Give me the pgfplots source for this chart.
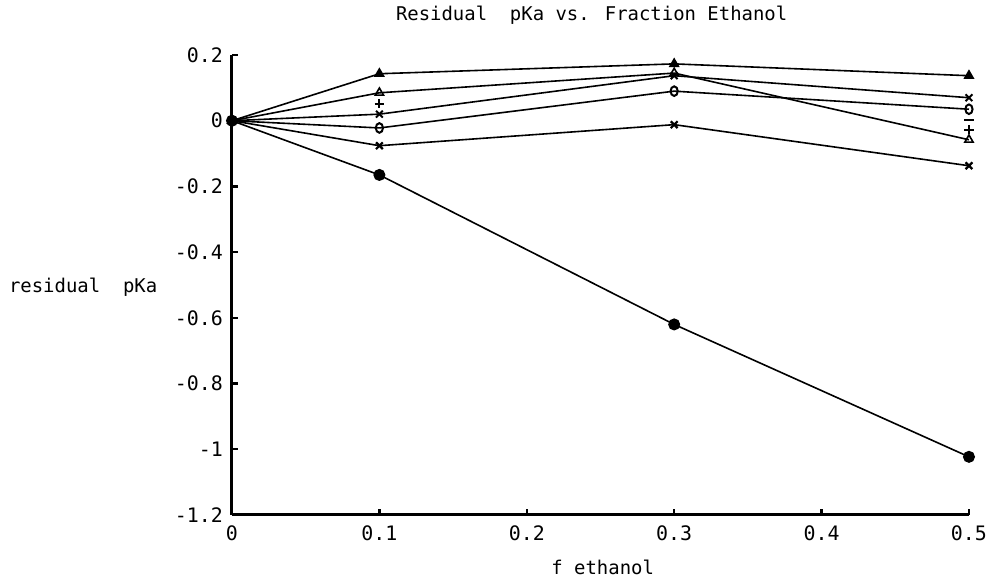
\documentclass[border=0pt]{standalone}
\usepackage{pgfplots}
\pgfplotsset{compat=1.18}
\usepackage{fontspec}
\setmainfont{DejaVu Sans Mono}

\begin{document}
\begin{tikzpicture}
\begin{axis}[
    scale only axis,
    width=368.5bp, height=230bp,
    xmin=0, xmax=0.5,
    ymin=-1.2, ymax=0.2,
    axis lines=left,
    x axis line style={line width=1.5bp, -},
    y axis line style={line width=1.5bp, -},
    xtick={0,0.1,0.2,0.3,0.4,0.5},
    ytick={-1.2,-1,-0.8,-0.6,-0.4,-0.2,0,0.2},
    tick align=inside,
    major tick length=3bp,
    tick style={line width=1.2bp, black},
    xticklabel style={yshift=-2bp},
    yticklabel style={xshift=-1bp},
    /pgf/number format/assume math mode=true,
    font=\fontsize{10}{12}\selectfont,
    clip=false,
    every axis plot/.append style={line width=0.8bp, black, mark size=2.4bp},
]
% filled triangles
\addplot[mark=triangle*] coordinates {(0,0) (0.1,0.143) (0.3,0.173) (0.5,0.137)};
% open triangles
\addplot[mark=triangle, mark options={line width=0.8bp}] coordinates {(0,0) (0.1,0.085) (0.3,0.145) (0.5,-0.058)};
% small x
\addplot[mark=x, mark options={line width=1bp}] coordinates {(0,0) (0.1,0.02) (0.3,0.137) (0.5,0.07)};
% open o
\addplot[mark=o, mark options={line width=1bp, xscale=0.75}] coordinates {(0,0) (0.1,-0.022) (0.3,0.09) (0.5,0.035)};
% crosses
\addplot[mark=x, mark options={line width=1.1bp}] coordinates {(0,0) (0.1,-0.076) (0.3,-0.012) (0.5,-0.137)};
% filled circles
\addplot[mark=*, mark size=2.6bp] coordinates {(0,0) (0.1,-0.165) (0.3,-0.62) (0.5,-1.023)};
% plus, marks only
\addplot[only marks, mark=+, mark options={line width=1bp}] coordinates {(0,0) (0.1,0.052) (0.5,-0.027)};
% dash, marks only
\addplot[only marks, mark=-, mark options={line width=1bp}] coordinates {(0.5,0.003)};

\node[font=\fontsize{9.5}{11}\selectfont] at (rel axis cs:0.488,1.087) {Residual\ \ pKa vs. Fraction Ethanol};
\node[font=\fontsize{9.5}{11}\selectfont] at (rel axis cs:0.503,-0.113) {f ethanol};
\node[font=\fontsize{9.5}{11}\selectfont] at (rel axis cs:-0.202,0.496) {residual\ \ pKa};
\coordinate (bl) at (rel axis cs:-0.3148,-0.1348);
\coordinate (tr) at (rel axis cs:1.0231,1.1196);
\end{axis}
\pgfresetboundingbox
\path[use as bounding box] (bl) rectangle (tr);
\end{tikzpicture}
\end{document}
